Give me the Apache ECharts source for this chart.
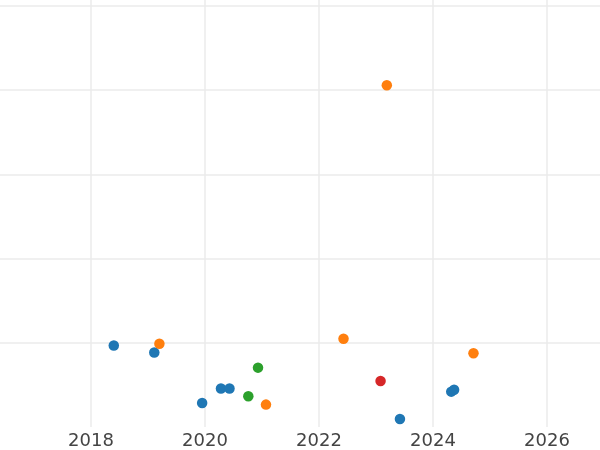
<!DOCTYPE html>
<html>
<head>
<meta charset="utf-8">
<script src="https://cdn.jsdelivr.net/npm/echarts@6/dist/echarts.min.js"></script>
<style>
  html, body { margin: 0; padding: 0; background: #fff; overflow: hidden; }
  /* chart box is a bit wider than the window so 2018 lands at x=91 */
  #scatterChart { position: absolute; left: -23px; top: 0; width: 627px; height: 450px; }
</style>
</head>
<body>
<div id="scatterChart"></div>
<script>
// data: [year, value]
const blueGroup = [
  [2018.40, 9.68], [2019.11, 8.85], [2019.95, 2.85], [2020.28, 4.57],
  [2020.43, 4.57], [2023.42, 0.95], [2024.32, 4.20], [2024.37, 4.42]
];
const orangeGroup = [
  [2019.20, 9.88], [2021.07, 2.66], [2022.43, 10.48], [2023.19, 40.58],
  [2024.71, 8.76]
];
const greenGroup = [[2020.76, 3.66], [2020.93, 7.05]];
const redGroup = [[2023.08, 5.46]];

const groupColors = ['#1f77b4', '#ff7f0e', '#2ca02c', '#d62728'];
const groupNames = ['blue', 'orange', 'green', 'red'];
const groups = [blueGroup, orangeGroup, greenGroup, redGroup];

let chart = echarts.init(document.getElementById('scatterChart'));
let gridLine = { show: true, showMinLine: false, showMaxLine: false, lineStyle: { color: '#ebebeb', width: 1.5 } };
let option = {
  animation: false,
  grid: { left: 0, right: 0, top: 0, bottom: 22.75 },
  xAxis: {
    type: 'value',
    min: 2016, max: 2027, interval: 2,
    axisLine: { show: false },
    axisTick: { show: false },
    axisLabel: {
      showMinLabel: false, showMaxLabel: false,
      color: '#444', fontSize: 18, fontFamily: 'DejaVu Sans', margin: 5,
      formatter: v => String(v)
    },
    splitLine: gridLine
  },
  yAxis: {
    type: 'value',
    min: 0, max: 50.71, interval: 10,
    axisLine: { show: false },
    axisTick: { show: false },
    axisLabel: { show: false },
    splitLine: gridLine
  },
  series: groups.map((g, i) => ({
    name: groupNames[i],
    type: 'scatter',
    data: g,
    symbolSize: 10.5,
    itemStyle: { color: groupColors[i], opacity: 1 }
  }))
};
chart.setOption(option);
</script>
</body>
</html>
